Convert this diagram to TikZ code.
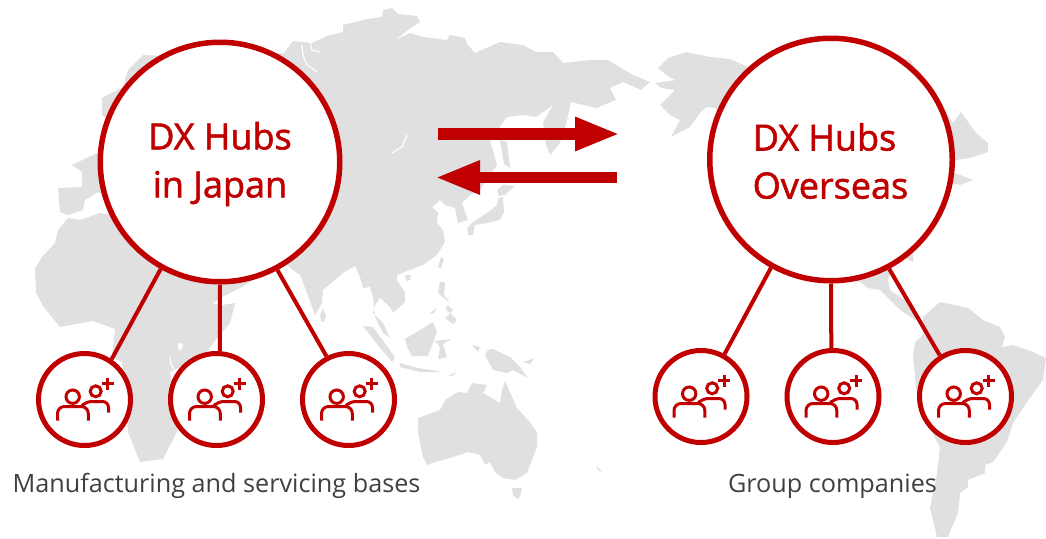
\documentclass[tikz,border=0pt]{standalone}
\usepackage{fontspec}
\usepackage{xcolor}
\usetikzlibrary{arrows.meta}
\setmainfont{Open Sans}
\newfontfamily\hubfont[FakeBold=1.6]{Open Sans}
\definecolor{hubred}{HTML}{C00000}
\definecolor{landgray}{HTML}{E0E0E0}
\definecolor{basegray}{HTML}{404040}

\begin{document}
\begin{tikzpicture}
  [x=1pt,y=-1pt,
   land/.style={fill=landgray,draw=none},
   inlet/.style={draw=white,line width=1.2pt},
   hub/.style={circle,draw=hubred,fill=white,line width=5.5pt,minimum size=239.5pt,inner sep=0pt},
   hubtext/.style={text=hubred,font=\hubfont\fontsize{36}{48}\selectfont,inner sep=0pt},
   basering/.style={circle,draw=hubred,fill=white,line width=5pt,minimum size=92pt,inner sep=0pt},
   basetext/.style={text=basegray,font=\fontsize{25.2}{28}\selectfont,anchor=base,inner sep=0pt},
   spoke/.style={draw=hubred,line width=4pt},
   flow/.style={draw=hubred,line width=11.5pt,-{Triangle[length=45pt,width=31pt]}},
   icon/.style={draw=hubred,line width=3pt}]
  \useasboundingbox (0,0) rectangle (1046,538);

  % eurasia
  \fill[land] (165,56) -- (284,53) -- (293,41) -- (303,42) -- (312,43) -- (325,37) -- (327,36) -- (343,32) -- (343,25)
    -- (367,19) -- (382,17) -- (383,10) -- (392,8) -- (398,14) -- (417,16) -- (420,22) -- (412,27) -- (395,40)
    -- (410,33) -- (423,37) -- (447,40) -- (450,35) -- (465,38) -- (467,44) -- (475,53) -- (500,42) -- (523,45)
    -- (536,52) -- (553,52) -- (563,63) -- (590,60) -- (608,60) -- (633,75) -- (650,82) -- (641,90) -- (623,82)
    -- (610,88) -- (616,100) -- (596,108) -- (571,102) -- (566,125) -- (560,143) -- (550,155) -- (546,145)
    -- (543,122) -- (553,105) -- (536,117) -- (523,115) -- (507,117) -- (490,140) -- (497,165) -- (480,190)
    -- (470,195) -- (462,203) -- (468,220) -- (458,223) -- (455,208) -- (445,205) -- (440,200) -- (432,207)
    -- (438,213) -- (437,223) -- (443,230) -- (445,242) -- (437,255) -- (423,265) -- (410,270) -- (397,275)
    -- (397,280) -- (405,293) -- (405,302) -- (393,313) -- (390,307) -- (380,298) -- (375,305) -- (373,313)
    -- (383,323) -- (390,338) -- (383,333) -- (375,317) -- (373,297) -- (370,287) -- (363,288) -- (360,277)
    -- (355,266) -- (343,273) -- (323,290) -- (322,303) -- (315,315) -- (307,293) -- (300,275) -- (293,270)
    -- (287,265) -- (270,268) -- (253,280) -- (240,288) -- (222,297) -- (213,303) -- (200,283) -- (190,250)
    -- (98,192) -- (85,200) -- (83,210) -- (68,215) -- (60,212) -- (58,188) -- (82,187) -- (82,172) -- (72,165)
    -- (97,153) -- (120,150) -- (106,118) -- (102,115) -- (102,98) -- (123,87) -- (128,70) -- (143,55) -- cycle;
  \draw[inlet] (302,45) -- (303,55) -- (307,65) -- (312,68) -- (317,72);
  \draw[inlet] (310,42) -- (312,50) -- (320,52);
  \draw[inlet] (407,135) -- (402,147) -- (392,153);
  % africa
  \fill[land] (68,218) -- (80,220) -- (100,213) -- (210,230) -- (205,285) -- (212,303) -- (222,305) -- (235,303)
    -- (230,323) -- (218,337) -- (203,357) -- (185,365) -- (170,372) -- (177,409) -- (177,432) -- (163,459)
    -- (140,462) -- (128,432) -- (122,362) -- (112,357) -- (113,347) -- (115,329) -- (93,321) -- (60,327)
    -- (43,306) -- (36,292) -- (35,269) -- (42,257) -- (55,243) -- (58,230) -- cycle;
  \fill[white] (178,343) -- (183,344) -- (182,349) -- (178,350) -- cycle;
  \draw[inlet] (170,356) -- (171,364) -- (174,369);
  % islands of asia
  \fill[land] (323,309) -- (326,316) -- (324,322) -- (321,321) -- (320,315) -- cycle;
  \fill[land] (500,140) -- (507,142) -- (510,168) -- (504,164) -- cycle;
  \fill[land] (497,190) -- (503,185) -- (515,186) -- (505,195) -- (499,196) -- cycle;
  \fill[land] (498,198) -- (503,197) -- (504,212) -- (500,220) -- (487,223) -- (475,225) -- (473,235) -- (468,235)
    -- (467,228) -- (473,222) -- (487,213) -- (497,205) -- cycle;
  \fill[land] (441,257) -- (444,260) -- (441,268) -- (438,267) -- cycle;
  \fill[land] (405,275) -- (411,275) -- (410,280) -- (406,281) -- cycle;
  \fill[land] (440,282) -- (445,282) -- (444,295) -- (450,303) -- (438,293) -- cycle;
  \fill[land] (447,305) -- (453,310) -- (450,313) -- (457,320) -- (453,324) -- (445,318) -- (450,313) -- (446,310) -- cycle;
  \fill[land] (430,313) -- (437,308) -- (433,314) -- cycle;
  \fill[land] (405,339) -- (433,322) -- (437,332) -- (428,356) -- (412,356) -- (407,347) -- cycle;
  \fill[land] (363,326) -- (373,327) -- (395,357) -- (392,362) -- (377,344) -- cycle;
  \fill[land] (400,363) -- (418,368) -- (443,372) -- (420,372) -- (400,367) -- cycle;
  \fill[land] (435,341) -- (452,339) -- (443,344) -- (447,357) -- (438,359) -- (440,347) -- cycle;
  \fill[land] (472,345) -- (480,347) -- (478,352) -- cycle;
  \fill[land] (485,355) -- (488,350) -- (493,349) -- (510,357) -- (520,367) -- (528,378) -- (513,370) -- (507,373)
    -- (493,370) -- cycle;
  \fill[land] (523,362) -- (535,358) -- (530,364) -- cycle;
  \fill[land] (448,376) -- (458,371) -- (452,376) -- cycle;
  % australia
  \fill[land] (418,418) -- (440,410) -- (445,400) -- (458,392) -- (467,393) -- (472,383) -- (487,385) -- (483,393)
    -- (500,403) -- (502,390) -- (505,381) -- (517,408) -- (528,420) -- (537,432) -- (537,447) -- (527,473)
    -- (515,480) -- (503,478) -- (495,472) -- (490,462) -- (485,465) -- (480,455) -- (468,452) -- (450,458)
    -- (435,462) -- (427,465) -- (423,457) -- (418,433) -- cycle;
  \fill[land] (512,488) -- (522,488) -- (520,497) -- (517,499) -- (513,495) -- cycle;
  \fill[land] (596,465) -- (602,472) -- (598,470) -- cycle;
  % north america
  \fill[land] (658,68) -- (668,58) -- (686,52) -- (710,57) -- (730,59) -- (750,68) -- (830,70) -- (897,57) -- (911,60)
    -- (920,80) -- (943,108) -- (953,123) -- (961,112) -- (976,133) -- (988,143) -- (988,152) -- (970,158)
    -- (956,160) -- (950,170) -- (900,240) -- (760,200) -- (716,108) -- (706,107) -- (700,113) -- (690,127)
    -- (671,137) -- (680,120) -- (670,115) -- (660,105) -- (675,90) -- (661,88) -- (655,83) -- (676,80)
    -- (670,78) -- cycle;
  \fill[land] (950,172) -- (955,173) -- (973,180) -- (960,185) -- (952,183) -- cycle;
  \fill[land] (905,240) -- (913,245) -- (913,262) -- (905,258) -- cycle;
  \fill[land] (845,278) -- (860,282) -- (868,288) -- (880,290) -- (895,305) -- (903,312) -- (915,320) -- (920,317)
    -- (905,300) -- (890,290) -- (888,280) -- (892,268) -- (860,250) -- cycle;
  % south america
  \fill[land] (923,317) -- (940,302) -- (955,305) -- (968,308) -- (983,320) -- (1000,327) -- (1005,337) -- (1002,347)
    -- (1013,345) -- (1033,352) -- (1046,358) -- (1043,380) -- (1027,402) -- (1013,423) -- (1007,442) -- (993,462)
    -- (985,465) -- (985,473) -- (968,480) -- (968,487) -- (960,493) -- (958,513) -- (948,537) -- (937,537)
    -- (933,520) -- (930,508) -- (937,473) -- (940,447) -- (918,407) -- (913,357) -- (915,342) -- (923,335) -- cycle;

  \node[hub] (hubjp) at (220,162) {};
  \node[hub,minimum size=242.5pt] (hubos) at (831,159.5) {};
  \node[hubtext,align=center] (hubjptext) at (220,164) {DX Hubs\\in Japan};
  \node[hubtext,align=left] (hubostext) at (830.5,161) {DX Hubs\\Overseas};

  \node[basering] (jpbase1) at (84.5,399.5) {};
  \node[basering] (jpbase2) at (216.5,399.5) {};
  \node[basering] (jpbase3) at (348.5,399.5) {};
  \node[basering] (osbase1) at (701,396.5) {};
  \node[basering] (osbase2) at (833,396.5) {};
  \node[basering] (osbase3) at (965.5,396.5) {};

  \node[basetext] (jplabel) at (216.5,492) {Manufacturing and servicing bases};
  \node[basetext] (oslabel) at (832.5,492) {Group companies};

  \foreach \from/\to in {hubjp.241/jpbase1.56,hubjp.270/jpbase2.86,hubjp.298/jpbase3.117,
                         hubos.241.7/osbase1.61,hubos.270/osbase2.92,hubos.298.3/osbase3.122}
    \draw[spoke] (\from) -- (\to);

  \coordinate (flowa) at (438,134);
  \coordinate (flowb) at (620,134);
  \coordinate (flowc) at (617,177.5);
  \coordinate (flowd) at (435,177.5);
  \draw[flow] (flowa) -- (flowb);
  \draw[flow] (flowc) -- (flowd);

  \foreach \base in {jpbase1,jpbase2,jpbase3,osbase1,osbase2,osbase3}
  {
    \begin{scope}[shift={(\base.center)}]
      \draw[icon] (-11.8,-2.8) circle (6.7pt);
      \draw[icon,rounded corners=7pt] (-27,21) -- (-27,7) -- (3.8,7) -- (3.8,21);
      \draw[icon] (11.2,-8.2) circle (5.5pt);
      \draw[icon,rounded corners=6pt] (-1,4.5) -- (1,2) -- (24,2) -- (24,13);
      \draw[hubred,line width=3.4pt] (17.2,-15.8) -- (29.2,-15.8) (23.2,-21.8) -- (23.2,-9.8);
    \end{scope}
  }

\end{tikzpicture}
\end{document}
